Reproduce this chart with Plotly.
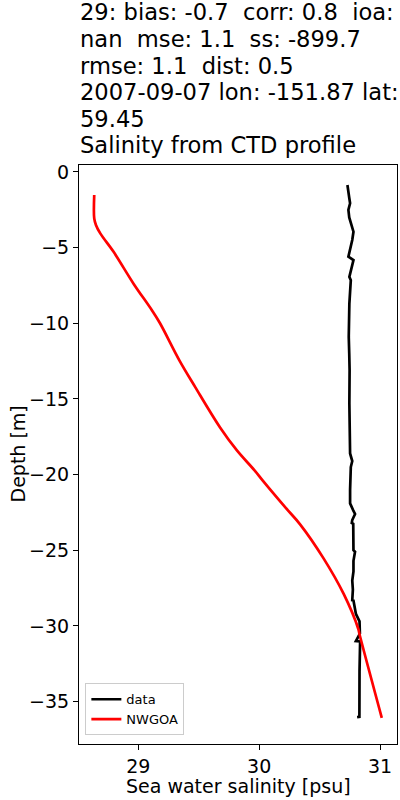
import plotly.graph_objects as go

# Observed CTD profile (data)
data_depth = [-0.86, -1.3, -1.7, -2.07, -2.5, -3.0, -3.5, -3.95, -4.5, -5.0, -5.5, -5.6, -5.83,
              -6.3, -6.93, -7.15, -8.0, -8.7, -10.0, -10.9, -12.0, -13.1, -15.3, -17.0, -18.6,
              -19.1, -19.5, -21.0, -21.9, -22.4, -22.6, -23.0, -23.2, -23.25, -24.0, -25.0, -25.1,
              -25.7, -26.4, -27.0, -27.6, -28.3, -28.32, -28.8, -29.2, -29.7, -30.5, -31.0,
              -31.02, -33.0, -36.0, -36.02]
data_sal = [30.730, 30.735, 30.745, 30.752, 30.738, 30.745, 30.765, 30.780, 30.770, 30.755,
            30.740, 30.738, 30.780, 30.765, 30.746, 30.758, 30.750, 30.746, 30.743, 30.741,
            30.745, 30.748, 30.746, 30.750, 30.752, 30.770, 30.758, 30.752, 30.752, 30.780,
            30.793, 30.770, 30.766, 30.778, 30.778, 30.780, 30.793, 30.780, 30.780, 30.770,
            30.775, 30.770, 30.780, 30.790, 30.800, 30.830, 30.833, 30.800, 30.835, 30.830,
            30.829, 30.810]

# Model profile (NWGOA)
model_depth = [-1.52, -3.07, -3.5, -4.06, -5.28, -7.38, -9.14, -10.0, -12.45, -14.2, -16.9,
               -18.4, -19.7, -20.4, -22.2, -23.3, -25.5, -27.9, -30.2, -30.55, -36.07]
model_sal = [28.636, 28.636, 28.650, 28.686, 28.796, 28.961, 29.113, 29.180, 29.340, 29.470,
             29.678, 29.816, 29.960, 30.030, 30.220, 30.340, 30.530, 30.700, 30.820, 30.830,
             31.014]

title_lines = ["29: bias: -0.7 \u00a0corr: 0.8 \u00a0ioa:",
               "nan \u00a0mse: 1.1 \u00a0ss: -899.7",
               "rmse: 1.1 \u00a0dist: 0.5",
               "2007-09-07 lon: -151.87 lat:",
               "59.45",
               "Salinity from CTD profile"]
x_label = "Sea water salinity [psu]"
y_label = "Depth [m]"
x_ticks = [29, 30, 31]
y_ticks = [0, -5, -10, -15, -20, -25, -30, -35]

FONT = "DejaVu Sans"
PLOT_TOP = 165
TITLE_SIZE = 22.6
LINE_STEP = 26.6
FIRST_BASELINE = 21

fig = go.Figure()
fig.add_trace(go.Scatter(x=data_sal, y=data_depth, mode="lines", name="data",
                         line=dict(color="black", width=2.7)))
fig.add_trace(go.Scatter(x=model_sal, y=model_depth, mode="lines", name="NWGOA",
                         line=dict(color="red", width=2.7, shape="spline")))

for i, line in enumerate(title_lines):
    baseline = FIRST_BASELINE + LINE_STEP * i
    box_bottom = baseline + 0.236 * TITLE_SIZE + 1
    fig.add_annotation(text=line, x=0, y=1, xref="paper", yref="paper",
                       xanchor="left", yanchor="bottom", align="left", showarrow=False,
                       xshift=-1, yshift=PLOT_TOP - box_bottom,
                       font=dict(family=FONT, size=TITLE_SIZE, color="black"))

fig.add_annotation(text=x_label, x=0.5, y=0, xref="paper", yref="paper",
                   xanchor="center", yanchor="middle", showarrow=False, yshift=-42,
                   font=dict(family=FONT, size=19, color="black"))
fig.add_annotation(text=y_label, x=0, y=0.5, xref="paper", yref="paper",
                   xanchor="center", yanchor="middle", showarrow=False, xshift=-62,
                   textangle=-90, font=dict(family=FONT, size=19, color="black"))

axis_common = dict(showline=True, linecolor="black", linewidth=1, mirror=True,
                   ticks="outside", ticklen=5, tickwidth=1, tickcolor="black",
                   showgrid=False, zeroline=False, automargin=False,
                   tickfont=dict(family=FONT, size=19, color="black"))

fig.update_xaxes(range=[28.51, 31.14], tickvals=x_ticks, **axis_common)
fig.update_yaxes(range=[-37.8, 0.46], tickvals=y_ticks, **axis_common)

fig.update_layout(width=400, height=800,
                  margin=dict(l=79, r=3, t=165, b=56, autoexpand=False),
                  plot_bgcolor="white", paper_bgcolor="white",
                  font=dict(family=FONT, color="black"),
                  legend=dict(x=0.02, y=0.015, xanchor="left", yanchor="bottom",
                              bgcolor="white", bordercolor="#cccccc", borderwidth=1,
                              font=dict(family=FONT, size=13, color="black")),
                  showlegend=True)

fig.write_html("out.html", config={"displayModeBar": False},
               post_script="document.body.style.margin='0';document.body.style.overflow='hidden';")
